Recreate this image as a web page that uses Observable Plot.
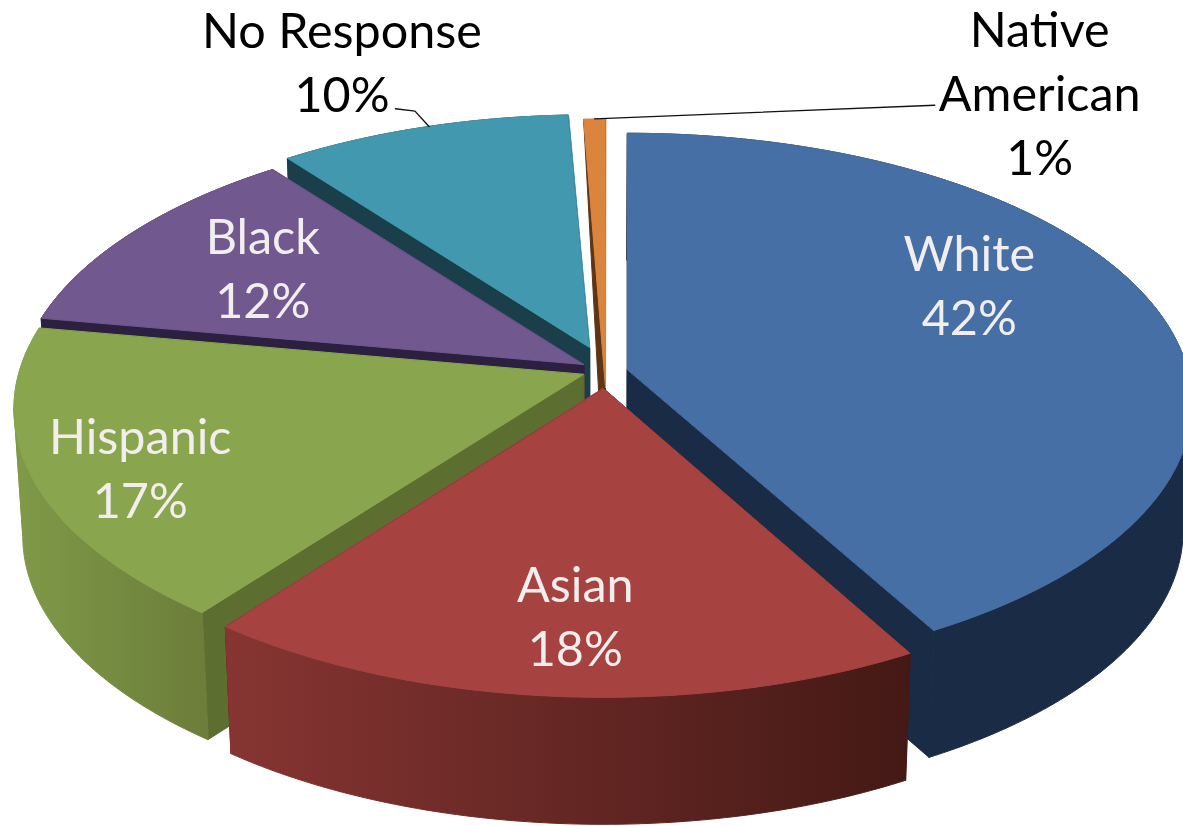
<!DOCTYPE html>
<html><head><meta charset="utf-8">
<script src="https://cdn.jsdelivr.net/npm/d3@7"></script>
<script src="https://cdn.jsdelivr.net/npm/@observablehq/plot@0.6"></script>
<style>html,body{margin:0;padding:0;background:#fff;overflow:hidden}svg{display:block}</style>
</head><body>
<div id="chart"></div>
<script>
// Chart values
const categories = ["White", "Asian", "Hispanic", "Black", "No Response", "Native\nAmerican"];
const percentLabels = [42, 18, 17, 12, 10, 1];
// Sweep of each slice as drawn, in percent of the circle
const drawnShares = [41.9, 18.5, 17.4, 11.8, 9.7, 0.7];

// Styles
const topColors = ["#466fa6", "#a64341", "#89a54e", "#71588f", "#4198af", "#db843d"];
const wallColors = ["#1a2c45", "#3e1714", "#5c6f30", "#2c2040", "#1a3e4a", "#5a3616"];
const sideLeft = ["#1a2c45", "#863532", "#7f9a48", "#2c2040", "#1a3e4a", "#5a3616"];
const sideRight = ["#1a2c45", "#441915", "#6c7e3a", "#2c2040", "#1a3e4a", "#5a3616"];
const labelColors = ["#f3eeee", "#f3eeee", "#f3eeee", "#f3eeee", "#000", "#000"];

// Layout of the exploded, tilted pie
const W = 1183, H = 826;
const hubX = [627, 603, 583, 583, 589, 605];
const hubY = [369, 388, 374, 364, 347, 387];
const widthScale = [1, 1, 1.009, 1.005, 0.975, 1];
const tiltScale = [0.985, 1, 1, 1, 0.97, 1.12];
const rimDepthFactor = [1, 1, 1, 1, 1, 0];
const labelAngle = [62.9, 183.4, 245.9, 301.6, 337.3, 38.7];
const labelRadius = [0.7136, 0.768, 0.823, 0.70, 1.36, 1.412];
const RX = 560, RY = 270, PERSP = 0.1257, DEPTH = 127, SHRINK = 0.985, AXIS = 600;

const rad = (d) => d * Math.PI / 180;
function project(i, angle, r) {
  const X = r * Math.sin(rad(angle)), Y = -r * Math.cos(rad(angle));
  const s = 1 / (1 - PERSP * Y);
  return [hubX[i] + RX * widthScale[i] * X * s, hubY[i] + RY * tiltScale[i] * Y * s];
}
const lower = ([x, y], k = 1) => [AXIS + (x - AXIS) * (1 - (1 - SHRINK) * k), y + DEPTH * k];

const points = [];
let polyId = 0;
function addPoly(pts, color) {
  const id = polyId++;
  for (const [x, y] of pts) points.push({id, x, y, color});
}

// Slice angles
let cum = 0;
const starts = [], ends = [];
for (const v of drawnShares) { starts.push(cum * 3.6); cum += v; ends.push(cum * 3.6); }

const gradients = [];

// Back to front
for (const i of [4, 5, 3, 2, 0, 1]) {
  const a0 = starts[i], a1 = ends[i], depth = rimDepthFactor[i];
  const hub = project(i, 0, 0), hubLow = lower(hub);
  const m = Math.max(2, Math.ceil((a1 - a0) / 0.75));
  const rim = d3.range(m + 1).map((k) => project(i, a0 + (a1 - a0) * k / m, 1));
  // radial faces
  addPoly([hub, rim[m], lower(rim[m], depth), hubLow], wallColors[i]);
  addPoly([hub, rim[0], lower(rim[0], depth), hubLow], wallColors[i]);
  // outer wall, shaded along x; cut where the rim turns back so each band runs one way in x
  if (depth > 0) {
    const [xL, xR] = d3.extent(rim, (p) => p[0]);
    gradients.push({id: `side-${i}`, xL, xR, left: sideLeft[i], right: sideRight[i]});
    const cuts = [...new Set([0, d3.minIndex(rim, (p) => p[0]), d3.maxIndex(rim, (p) => p[0]), m])].sort((a, b) => a - b);
    for (let c = 0; c + 1 < cuts.length; c++) {
      const band = rim.slice(cuts[c], cuts[c + 1] + 1);
      addPoly([...band, ...band.map((p) => lower(p)).reverse()], `url(#side-${i})`);
    }
  }
  // top face
  addPoly([hub, ...rim], topColors[i]);
}

const labels = categories.map((name, i) => {
  const [x, y] = project(i, labelAngle[i], labelRadius[i]);
  return {text: `${name}\n${percentLabels[i]}%`, x, y, color: labelColors[i]};
});

const toXY = ([i, a, r]) => { const [x, y] = project(i, a, r); return {x, y}; };
const leaderNoResponse = [[4, 340.8, 1], [4, 340.5, 1.08], [4, 338.7, 1.105]].map(toXY);
const leaderNative = [[5, 358.75, 1], [5, 32.2, 1.25]].map(toXY);

const chart = Plot.plot({
  width: W, height: H,
  marginTop: 0, marginRight: 0, marginBottom: 0, marginLeft: 0,
  x: {domain: [0, W], range: [0, W], axis: null},
  y: {domain: [0, H], range: [0, H], axis: null},
  color: {type: "identity"},
  style: {background: "#fff", overflow: "hidden"},
  marks: [
    Plot.line(points, {x: "x", y: "y", z: "id", fill: "color", stroke: "color", strokeWidth: 1, curve: "linear-closed"}),
    Plot.line(leaderNoResponse, {x: "x", y: "y", stroke: "#111", strokeWidth: 1.4}),
    Plot.line(leaderNative, {x: "x", y: "y", stroke: "#111", strokeWidth: 1.4}),
    Plot.text(labels, {x: "x", y: "y", dy: -4, text: "text", fill: "color", fontSize: 48.5, lineHeight: 1.32, fontFamily: "Lato", textAnchor: "middle", lineAnchor: "middle"})
  ]
});
const defs = d3.select(chart).insert("defs", ":first-child");
for (const g of gradients) {
  const lg = defs.append("linearGradient").attr("id", g.id).attr("gradientUnits", "userSpaceOnUse")
    .attr("x1", g.xL).attr("x2", g.xR).attr("y1", 0).attr("y2", 0);
  lg.append("stop").attr("offset", 0).attr("stop-color", g.left);
  lg.append("stop").attr("offset", 1).attr("stop-color", g.right);
}
document.getElementById("chart").appendChild(chart);
</script>
</body></html>
